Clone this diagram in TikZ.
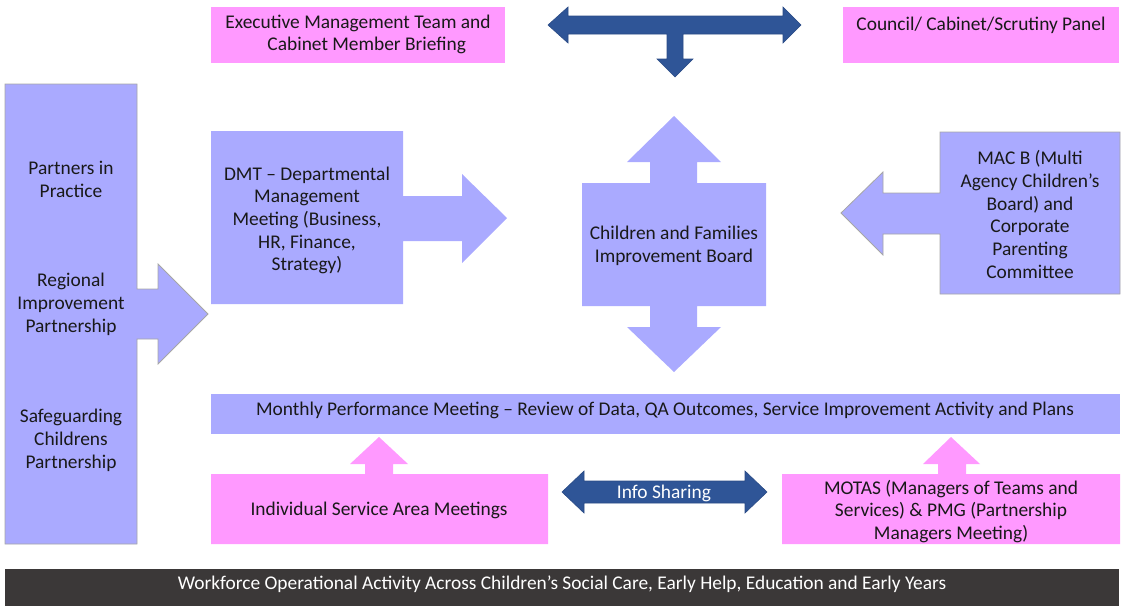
\documentclass[tikz,border=0pt]{standalone}
\usepackage{fontspec}
\setmainfont{Carlito}
\usetikzlibrary{calc}
\definecolor{lilac}{HTML}{AAAAFF}
\definecolor{pinkbox}{HTML}{FF99FF}
\definecolor{navy}{HTML}{2F5597}
\definecolor{navyedge}{HTML}{2A4B85}
\definecolor{charcoal}{HTML}{3B3838}
\definecolor{edgegrey}{HTML}{A6A6A6}
\begin{document}
\begin{tikzpicture}[x=1pt,y=-1pt,
  every node/.style={font=\fontsize{19.4}{22.7}\selectfont, align=center, inner sep=0pt, yshift=-1.5pt},
  lilacshape/.style={fill=lilac},
  outlined/.style={fill=lilac, draw=edgegrey, line width=0.8pt},
  pinkshape/.style={fill=pinkbox},
  navyshape/.style={fill=navy, draw=navyedge, line width=0.6pt},
  lbl/.style={text=black!90},
  whitelbl/.style={text=white}]
\useasboundingbox (0,0) rectangle (1124,606);

% top row: briefing boxes and the two-way feed arrow between them
\fill[pinkshape] (211,7) rectangle (505,63);
\node[lbl] (exec) at (358,33) {Executive Management Team and\\\hspace*{0.9em}Cabinet Member Briefing};
\fill[pinkshape] (843,7) rectangle (1119,63);
\node[lbl] (council) at (981,24) {Council/ Cabinet/Scrutiny Panel};
\draw[navyshape] (548,25) -- (568,7) -- (568,16) -- (783,16) -- (783,7) -- (801,25)
  -- (783,43) -- (783,34) -- (683,34) -- (683,59) -- (693,59) -- (675,77)
  -- (657,59) -- (667,59) -- (667,34) -- (568,34) -- (568,43) -- cycle;

% partners column with its arrow into the department meeting
\draw[outlined] (5,84) -- (137,84) -- (137,289) -- (158,289) -- (158,264) -- (208,314)
  -- (158,364) -- (158,339) -- (137,339) -- (137,544) -- (5,544) -- cycle;
\node[lbl] (pip) at (71,178) {Partners in\\Practice};
\node[lbl] (rip) at (71,303) {Regional\\Improvement\\Partnership};
\node[lbl] (scp) at (71,439) {Safeguarding\\Childrens\\Partnership};

% departmental management meeting, pointing right
\fill[lilacshape] (211,131) -- (403,131) -- (403,196) -- (462,196) -- (462,174) -- (507,218)
  -- (462,263) -- (462,241) -- (403,241) -- (403,304) -- (211,304) -- cycle;
\node[lbl] (dmt) at (307,219) {DMT -- Departmental\\Management\\Meeting (Business,\\HR, Finance,\\Strategy)};

% improvement board, pointing up and down
\fill[lilacshape] (582,183) -- (650,183) -- (650,162) -- (627,162) -- (674,116) -- (721,162)
  -- (697,162) -- (697,183) -- (766,183) -- (766,306) -- (697,306) -- (697,327) -- (721,327)
  -- (674,372) -- (627,327) -- (650,327) -- (650,306) -- (582,306) -- cycle;
\node[lbl] (board) at (674,244) {Children and Families\\Improvement Board};

% MAC B, pointing left
\draw[outlined] (940,132) -- (1120,132) -- (1120,294) -- (940,294) -- (940,234) -- (883,234)
  -- (883,255) -- (841,213) -- (883,172) -- (883,193) -- (940,193) -- cycle;
\node[lbl] (macb) at (1030,213) {MAC B (Multi\\Agency Children’s\\Board) and\\Corporate\\Parenting\\Committee};

% monthly performance meeting
\fill[lilacshape] (211,394) rectangle (1120,434);
\node[lbl] (monthly) at (665,409) {Monthly Performance Meeting -- Review of Data, QA Outcomes, Service Improvement Activity and Plans};

% service area meetings feeding upward
\fill[pinkshape] (211,474) -- (365,474) -- (365,464) -- (350,464) -- (379,437) -- (408,464)
  -- (393,464) -- (393,474) -- (548,474) -- (548,544) -- (211,544) -- cycle;
\node[lbl] (isam) at (379,509) {Individual Service Area Meetings};

\fill[pinkshape] (782,474) -- (938,474) -- (938,464) -- (923,464) -- (951,437) -- (980,464)
  -- (966,464) -- (966,474) -- (1120,474) -- (1120,544) -- (782,544) -- cycle;
\node[lbl] (motas) at (951,510) {MOTAS (Managers of Teams and\\Services) \& PMG (Partnership\\Managers Meeting)};

% info sharing between the two
\draw[navyshape] (562,492) -- (584,471) -- (584,481) -- (745,481) -- (745,471) -- (767,492)
  -- (745,513) -- (745,503) -- (584,503) -- (584,513) -- cycle;
\node[whitelbl] (info) at (664,492) {Info Sharing};

% workforce band
\fill[charcoal] (5,569) rectangle (1119,606);
\node[whitelbl] (workforce) at (562,583) {Workforce Operational Activity Across Children’s Social Care, Early Help, Education and Early Years};
\end{tikzpicture}
\end{document}
